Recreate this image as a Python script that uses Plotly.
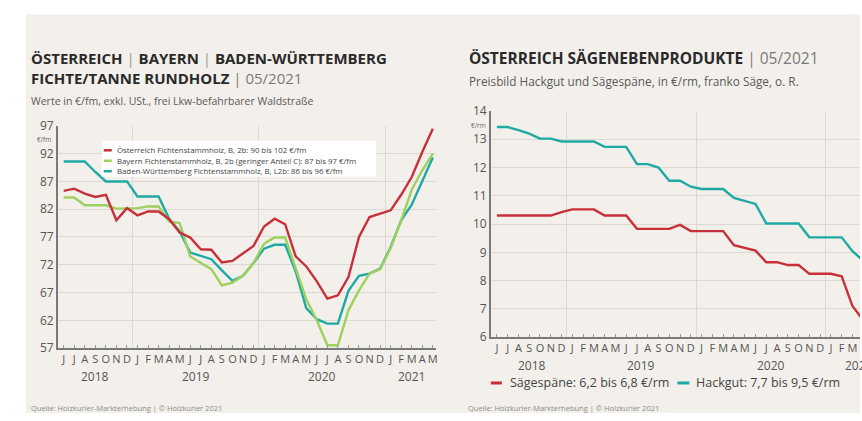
import plotly.graph_objects as go

# ---------------- data ----------------
months = ["2018-06", "2018-07", "2018-08", "2018-09", "2018-10", "2018-11", "2018-12",
          "2019-01", "2019-02", "2019-03", "2019-04", "2019-05", "2019-06", "2019-07",
          "2019-08", "2019-09", "2019-10", "2019-11", "2019-12",
          "2020-01", "2020-02", "2020-03", "2020-04", "2020-05", "2020-06", "2020-07",
          "2020-08", "2020-09", "2020-10", "2020-11", "2020-12",
          "2021-01", "2021-02", "2021-03", "2021-04", "2021-05"]
month_letters = ["J", "J", "A", "S", "O", "N", "D",
                 "J", "F", "M", "A", "M", "J", "J", "A", "S", "O", "N", "D",
                 "J", "F", "M", "A", "M", "J", "J", "A", "S", "O", "N", "D",
                 "J", "F", "M", "A", "M"]
years = ["2018", "2019", "2020", "2021"]

# left chart (EUR/fm)
oesterreich = [85.3, 85.7, 84.8, 84.2, 84.6, 80.0, 82.2, 80.9, 81.6, 81.6,
               80.2, 77.8, 76.9, 74.8, 74.7, 72.4, 72.7, 74.0, 75.4, 78.9,
               80.3, 79.3, 73.5, 71.7, 69.0, 65.9, 66.5, 69.8, 77.0, 80.6,
               81.2, 81.8, 84.6, 87.8, 92.3, 96.5]
bayern = [84.1, 84.1, 82.7, 82.7, 82.7, 82.1, 82.1, 82.2, 82.5, 82.5,
          79.8, 79.5, 73.5, 72.3, 71.2, 68.3, 68.8, 70.0, 72.3, 75.8,
          76.9, 76.9, 71.5, 65.8, 62.0, 57.5, 57.5, 63.8, 67.4, 70.4,
          71.2, 75.0, 80.0, 85.5, 89.0, 92.0]
baden_wuerttemberg = [90.6, 90.6, 90.6, 88.7, 87.0, 87.0, 87.0, 84.3, 84.3, 84.3,
                      80.3, 78.0, 74.2, 73.6, 73.0, 71.0, 69.1, 70.0, 72.3, 74.9,
                      75.6, 75.6, 70.8, 64.2, 62.2, 61.4, 61.4, 67.3, 70.0, 70.4,
                      71.3, 75.2, 80.0, 82.8, 87.0, 91.3]
left_legend = ["Österreich Fichtenstammholz, B, 2b: 90 bis 102 €/fm",
               "Bayern Fichtenstammholz, B, 2b (geringer Anteil C): 87 bis 97 €/fm",
               "Baden-Württemberg Fichtenstammholz, B, L2b: 86 bis 96 €/fm"]
left_yticks = [57, 62, 67, 72, 77, 82, 87, 92, 97]

# right chart (EUR/rm)
saegespaene = [10.3, 10.3, 10.3, 10.3, 10.3, 10.3, 10.42, 10.52, 10.52, 10.52,
               10.3, 10.3, 10.3, 9.83, 9.83, 9.83, 9.83, 9.97, 9.75, 9.75,
               9.75, 9.75, 9.25, 9.15, 9.06, 8.65, 8.65, 8.55, 8.55, 8.24,
               8.24, 8.24, 8.15, 7.1, 6.6, 6.5]
hackgut = [13.43, 13.43, 13.32, 13.2, 13.02, 13.02, 12.92, 12.92, 12.92, 12.92,
           12.73, 12.73, 12.73, 12.12, 12.12, 12.0, 11.53, 11.53, 11.32, 11.24,
           11.24, 11.24, 10.92, 10.82, 10.71, 10.02, 10.02, 10.02, 10.02, 9.53,
           9.53, 9.53, 9.53, 9.04, 8.7, 8.6]
right_legend = ["Sägespäne: 6,2 bis 6,8 €/rm", "Hackgut: 7,7 bis 9,5 €/rm"]
right_yticks = [6, 7, 8, 9, 10, 11, 12, 13, 14]

# ---------------- layout helpers ----------------
W, H = 862, 421
# observed placement of the figure in the captured picture: row = SCALE_Y * (y + OFFSET_Y)
SCALE_Y = 0.963
OFFSET_Y = 8


def px(x):
    return x / W


def py(y):
    # y is the target pixel row in the captured picture
    return 1 - (y / SCALE_Y - OFFSET_Y) / H


RED = "#c72f39"
GREEN = "#9dd05c"
TEAL = "#1fa9a4"
BG = "#f3f0eb"
GRID = "#dcd8d2"
AXIS = "#7a7a7a"
TXT = "#555555"
FONT = "Open Sans"

x_idx = list(range(len(months)))
year_of = [m[:4] for m in months]
year_centers = [sum(i for i, y in enumerate(year_of) if y == yr) / year_of.count(yr) for yr in years]
year_boundaries = [i - 0.5 for i in range(1, len(months)) if year_of[i] != year_of[i - 1]]

fig = go.Figure()

# left chart lines
fig.add_trace(go.Scatter(x=x_idx, y=baden_wuerttemberg, mode="lines", name=left_legend[2],
                         line=dict(color=TEAL, width=2.4), xaxis="x", yaxis="y", showlegend=False))
fig.add_trace(go.Scatter(x=x_idx, y=bayern, mode="lines", name=left_legend[1],
                         line=dict(color=GREEN, width=2.4), xaxis="x", yaxis="y", showlegend=False))
fig.add_trace(go.Scatter(x=x_idx, y=oesterreich, mode="lines", name=left_legend[0],
                         line=dict(color=RED, width=2.4), xaxis="x", yaxis="y", showlegend=False))

# right chart lines
fig.add_trace(go.Scatter(x=x_idx, y=hackgut, mode="lines", name=right_legend[1],
                         line=dict(color=TEAL, width=2.4), xaxis="x2", yaxis="y2", showlegend=False))
fig.add_trace(go.Scatter(x=x_idx, y=saegespaene, mode="lines", name=right_legend[0],
                         line=dict(color=RED, width=2.4), xaxis="x2", yaxis="y2", showlegend=False))

xcommon = dict(tickmode="array", tickvals=x_idx, ticktext=month_letters,
               ticks="inside", ticklen=3, tickwidth=1, tickcolor="#9a9a9a",
               showline=True, linecolor=AXIS, linewidth=1.5, showgrid=False,
               zeroline=False, fixedrange=True,
               tickfont=dict(family=FONT, size=11, color=TXT),
               minor=dict(tickmode="array", tickvals=year_boundaries, showgrid=True,
                          gridcolor=GRID, gridwidth=1, ticks=""))
ycommon = dict(tickmode="array", showline=True, linecolor=AXIS, linewidth=1.5,
               showgrid=True, gridcolor=GRID, gridwidth=1, zeroline=False,
               ticks="", fixedrange=True,
               tickfont=dict(family=FONT, size=12, color=TXT))

fig.update_layout(
    width=W, height=H,
    margin=dict(l=0, r=0, t=0, b=0),
    paper_bgcolor="white",
    plot_bgcolor="rgba(0,0,0,0)",
    font=dict(family=FONT, color=TXT),
    xaxis=dict(domain=[px(58), px(437)], range=[-0.55, 35.3], anchor="y", **xcommon),
    yaxis=dict(domain=[py(348), py(125)], range=[57, 97], tickvals=left_yticks,
               anchor="x", **ycommon),
    xaxis2=dict(domain=[px(492), 1.0], range=[-0.56, 33.7], anchor="y2", **xcommon),
    yaxis2=dict(domain=[py(337), py(110)], range=[6, 14], tickvals=right_yticks,
                anchor="x2", **ycommon),
)

shapes = [
    # beige card
    dict(type="rect", xref="paper", yref="paper", x0=px(26), x1=1.0, y0=0, y1=py(13),
         fillcolor=BG, line=dict(width=0), layer="below"),
    # left legend box
    dict(type="rect", xref="paper", yref="paper", x0=px(102), x1=px(377), y0=py(176), y1=py(140),
         fillcolor="white", line=dict(width=0), layer="above"),
]
annotations = []


def ann(text, x, y, size, color=TXT, xref="paper", yref="paper", xanchor="left", yanchor="middle", **kw):
    annotations.append(dict(text=text, x=x, y=y, xref=xref, yref=yref, xanchor=xanchor,
                            yanchor=yanchor, showarrow=False,
                            font=dict(family=FONT, size=size, color=color), **kw))


# titles
PIPE = "<span style='color:#9a9a9a'>|</span>"
ann(f"<b>ÖSTERREICH</b> {PIPE} <b>BAYERN</b> {PIPE} <b>BADEN-WÜRTTEMBERG</b>",
    px(29), py(57), 15, "#2a2a2a")
ann(f"<b>FICHTE/TANNE RUNDHOLZ</b> <span style='color:#7a7a7a'>| 05/2021</span>",
    px(29), py(77), 15, "#2a2a2a")
ann("Werte in €/fm, exkl. USt., frei Lkw-befahrbarer Waldstraße", px(29), py(100), 10.5, "#5a5a5a")
ann(f"<b>ÖSTERREICH SÄGENEBENPRODUKTE</b> <span style='color:#7a7a7a'>| 05/2021</span>",
    px(468), py(57), 15.5, "#2a2a2a")
ann("Preisbild Hackgut und Sägespäne, in €/rm, franko Säge, o. R.", px(468), py(80), 11.8, "#5a5a5a")

# units
ann("€/fm", px(53), py(139), 6.5, "#666", xanchor="right")
ann("€/rm", px(489), py(125), 6.5, "#666", xanchor="right")

# years
for yr, c in zip(years, year_centers):
    ann(yr, c, py(376), 12, TXT, xref="x", xanchor="center")
right_year_pos = [3.3, 13.4, 25.4, 33.6]
for yr, c in zip(years, right_year_pos):
    ann(yr, c, py(365), 12, TXT, xref="x2", xanchor="center")

# left legend
for label, color, yy in zip(left_legend, [RED, GREEN, TEAL], [149.5, 160, 170.5]):
    shapes.append(dict(type="line", xref="paper", yref="paper", x0=px(104), x1=px(112),
                       y0=py(yy), y1=py(yy), line=dict(color=color, width=2.5), layer="above"))
    ann(label, px(115), py(yy), 7.8, "#444")

# right legend
for label, color, x0, x1, xt in zip(right_legend, [RED, TEAL], [492, 679], [503, 691], [509, 696]):
    shapes.append(dict(type="line", xref="paper", yref="paper", x0=px(x0), x1=px(x1),
                       y0=py(383), y1=py(383), line=dict(color=color, width=3), layer="above"))
    ann(label, px(xt), py(383), 12.5, "#444")

# sources
ann("Quelle: Holzkurier-Markterhebung | © Holzkurier 2021", px(29), py(408), 7.5, "#8a8a8a")
ann("Quelle: Holzkurier-Markterhebung | © Holzkurier 2021", px(467), py(408), 7.5, "#8a8a8a")

fig.update_layout(shapes=shapes, annotations=annotations)

fig.write_html(
    "out.html",
    config={"displayModeBar": False, "responsive": False},
    post_script=("var r=document.documentElement,b=document.body;"
                 "r.style.margin='0';r.style.padding='0';r.style.overflow='hidden';"
                 "r.style.minHeight='100%';"
                 "r.style.background='linear-gradient(to right, #ffffff 26px, rgba(255,255,255,0) 26px),"
                 " linear-gradient(to bottom, #ffffff 50%, #f3f0eb 50%)';"
                 "b.style.margin='0';b.style.padding='0';b.style.overflow='hidden';"
                 "b.style.background='transparent';"),
)
